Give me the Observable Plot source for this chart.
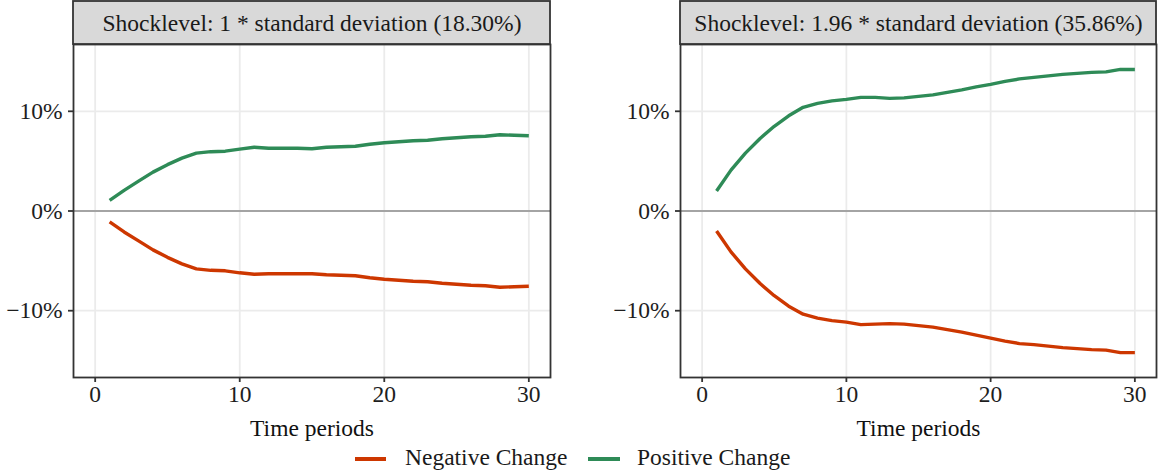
<!DOCTYPE html>
<html>
<head>
<meta charset="utf-8">
<script src="https://cdn.jsdelivr.net/npm/d3@7"></script>
<script src="https://cdn.jsdelivr.net/npm/@observablehq/plot@0.6"></script>
<style>
  html, body { margin: 0; padding: 0; background: #fff; }
  #wrap { position: relative; width: 1158px; height: 472px; font-family: "Liberation Serif", "Times New Roman", serif; }
  .panel { position: absolute; top: 0; }
  .legend { position: absolute; top: 445px; height: 27px; left: 0; width: 1158px; font-size: 23.5px; color: #1a1a1a; }
  .sw { position: absolute; top: 12px; height: 4px; }
  .lt { position: absolute; top: -1px; line-height: 27px; white-space: nowrap; }
</style>
</head>
<body>
<div id="wrap">
  <div id="p1" class="panel" style="left:0"></div>
  <div id="p2" class="panel" style="left:579px"></div>
  <div class="legend">
    <div class="sw" id="sw1" style="left:355px;width:31px"></div>
    <div class="lt" id="lt1" style="left:405px"></div>
    <div class="sw" id="sw2" style="left:588px;width:32px"></div>
    <div class="lt" id="lt2" style="left:637px"></div>
  </div>
</div>
<script>
// ---- data ----
const periods = [1,2,3,4,5,6,7,8,9,10,11,12,13,14,15,16,17,18,19,20,21,22,23,24,25,26,27,28,29,30];
const seriesNames = ["Negative Change", "Positive Change"];
const seriesColors = ["#CD3700", "#2E8B57"];
const stripLabels = ["Shocklevel: 1 * standard deviation (18.30%)", "Shocklevel: 1.96 * standard deviation (35.86%)"];
const xTicks = [0, 10, 20, 30];
const yTicks = [-10, 0, 10];
const xTitle = "Time periods";

const leftPos = [1.07, 2.07, 3.0, 3.9, 4.65, 5.3, 5.8, 5.95, 6.0, 6.2, 6.4, 6.3, 6.3, 6.3, 6.25, 6.4, 6.45, 6.5, 6.7, 6.85, 6.95, 7.05, 7.1, 7.25, 7.35, 7.45, 7.5, 7.65, 7.6, 7.55];
const leftNeg = [-1.1, -2.1, -3.0, -3.9, -4.65, -5.3, -5.8, -5.95, -6.0, -6.2, -6.35, -6.3, -6.3, -6.3, -6.3, -6.4, -6.45, -6.5, -6.7, -6.85, -6.95, -7.05, -7.1, -7.25, -7.35, -7.45, -7.5, -7.65, -7.6, -7.55];
const rightPos = [2.0, 4.1, 5.8, 7.25, 8.5, 9.55, 10.4, 10.8, 11.05, 11.2, 11.4, 11.4, 11.3, 11.35, 11.5, 11.65, 11.9, 12.15, 12.45, 12.7, 13.0, 13.25, 13.4, 13.55, 13.7, 13.8, 13.9, 13.95, 14.2, 14.2];
const rightNeg = [-2.0, -4.1, -5.8, -7.25, -8.5, -9.55, -10.35, -10.75, -11.0, -11.15, -11.4, -11.35, -11.3, -11.35, -11.5, -11.65, -11.9, -12.15, -12.45, -12.75, -13.05, -13.3, -13.4, -13.55, -13.7, -13.8, -13.9, -13.95, -14.2, -14.2];

function rows(neg, pos) {
  const out = [];
  periods.forEach((p, i) => out.push({t: p, v: neg[i], s: seriesNames[0]}));
  periods.forEach((p, i) => out.push({t: p, v: pos[i], s: seriesNames[1]}));
  return out;
}
const fmtPct = d => (d < 0 ? "\u2212" + Math.abs(d) : String(d)) + "%";
const FS = 23.5;

function stripRect() {
  return (index, scales, values, dims) => {
    const {marginLeft, marginRight, width} = dims;
    const r = d3.create("svg:rect")
      .attr("x", marginLeft).attr("y", 1)
      .attr("width", width - marginLeft - marginRight).attr("height", 43)
      .attr("fill", "#D9D9D9").attr("stroke", "#333333").attr("stroke-width", 1.8);
    return r.node();
  };
}

function panel(data, label, marginLeft, marginRight) {
  return Plot.plot({
    width: 579,
    height: 445,
    marginLeft, marginRight,
    marginTop: 44,
    marginBottom: 68,
    style: {fontFamily: "'Liberation Serif', 'Times New Roman', serif", fontSize: FS + "px", background: "#fff", overflow: "visible"},
    x: {domain: [-1.5, 31.5], label: null},
    y: {domain: [-16.7, 16.7], label: null},
    color: {domain: seriesNames, range: seriesColors},
    marks: [
      Plot.gridX(xTicks, {stroke: "#EBEBEB", strokeOpacity: 1, strokeWidth: 1.8}),
      Plot.gridY(yTicks, {stroke: "#EBEBEB", strokeOpacity: 1, strokeWidth: 1.8}),
      Plot.ruleY([0], {stroke: "#8c8c8c", strokeWidth: 1.3}),
      Plot.line(data, {x: "t", y: "v", z: "s", stroke: "s", strokeWidth: 3.4, strokeLinejoin: "round", strokeLinecap: "butt"}),
      Plot.frame({stroke: "#333333", strokeWidth: 1.8}),
      Plot.axisX(xTicks, {tickSize: 5, tickPadding: 3, fontSize: FS, stroke: "#333333", strokeWidth: 1.8, fill: "#1e1e1e", label: null}),
      Plot.axisY(yTicks, {tickSize: 5, tickPadding: 6, fontSize: FS, stroke: "#333333", strokeWidth: 1.8, fill: "#1e1e1e", tickFormat: fmtPct, label: null}),
      Plot.text([xTitle], {frameAnchor: "bottom", dy: 51, fontSize: FS, fill: "#111", lineAnchor: "middle"}),
      stripRect(),
      Plot.text([label], {frameAnchor: "top", dy: -21, fontSize: FS, fill: "#1a1a1a", lineAnchor: "middle"})
    ]
  });
}

document.getElementById("p1").appendChild(panel(rows(leftNeg, leftPos), stripLabels[0], 73, 29));
document.getElementById("p2").appendChild(panel(rows(rightNeg, rightPos), stripLabels[1], 101, 2));

document.getElementById("sw1").style.background = seriesColors[0];
document.getElementById("sw2").style.background = seriesColors[1];
document.getElementById("lt1").textContent = seriesNames[0];
document.getElementById("lt2").textContent = seriesNames[1];
</script>
</body>
</html>
